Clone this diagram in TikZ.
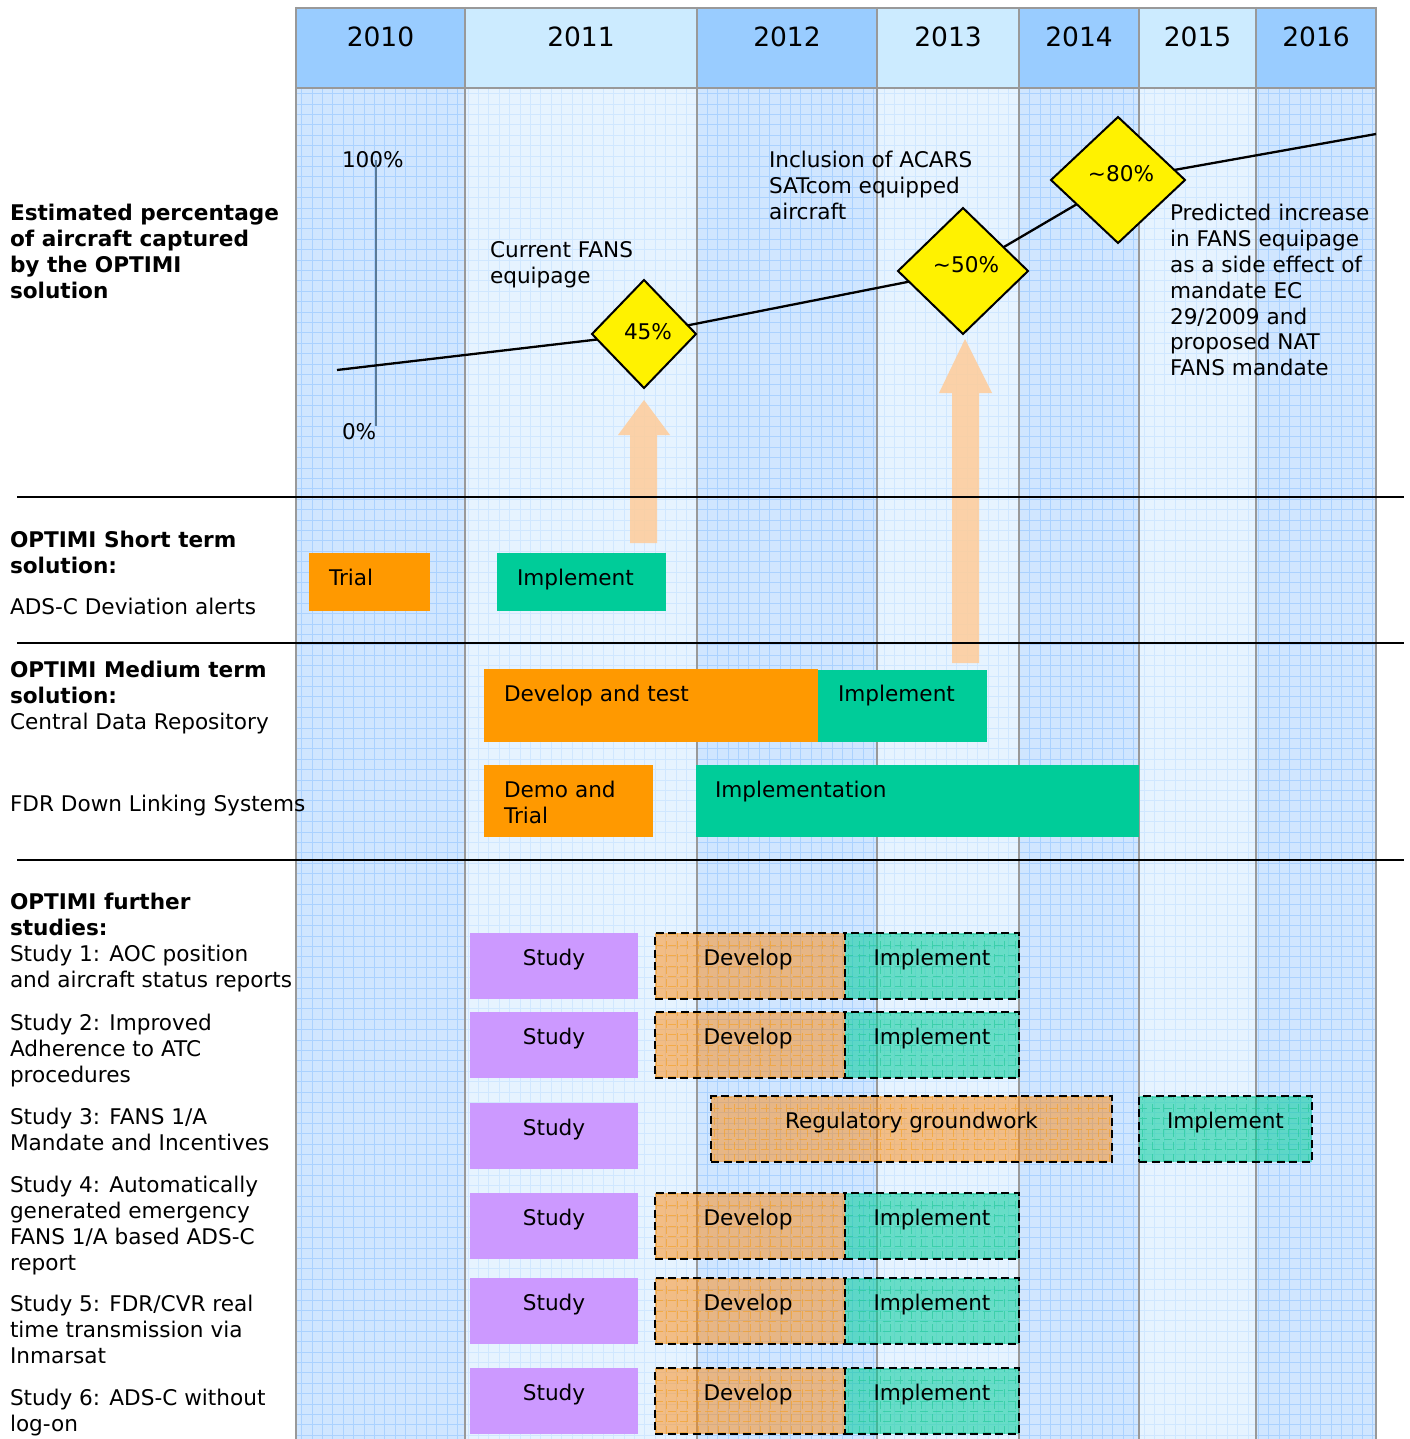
\documentclass[tikz,border=0pt]{standalone}
\usepackage{fontspec}
\setmainfont{DejaVu Sans}
\usetikzlibrary{shapes.geometric,calc}
\definecolor{hdrdark}{HTML}{99CCFF}
\definecolor{hdrlight}{HTML}{CCEBFF}
\definecolor{bodydark}{HTML}{D0E6FF}
\definecolor{bodylight}{HTML}{E6F3FF}
\definecolor{griddark}{HTML}{ABD2FF}
\definecolor{gridlight}{HTML}{D0E7FF}
\definecolor{colborder}{HTML}{999999}
\definecolor{orangebar}{HTML}{FF9900}
\definecolor{greenbar}{HTML}{00CC99}
\definecolor{purplebar}{HTML}{CC99FF}
\definecolor{arrowfill}{HTML}{FFCC99}
\definecolor{axisline}{HTML}{5A7A96}
\definecolor{devgrid}{HTML}{F5A020}
\definecolor{impgrid}{HTML}{20C898}
\begin{document}
\begin{tikzpicture}[x=1pt,y=-1pt,
  every node/.style={font=\fontsize{21.6}{25.8}\selectfont, inner sep=0pt, outer sep=0pt},
  txt/.style={align=left, anchor=north west},
  bartxt/.style={anchor=base west},
  ctrtxt/.style={anchor=base},
  solidbar/.style={rectangle, anchor=north west, minimum width=#1},
  devbox/.style={rectangle, anchor=north west, minimum width=190, minimum height=66,
    fill=orangebar!85!red!95!white, fill opacity=0.5, draw=black, draw opacity=1, line width=2.8, dash pattern=on 8pt off 4.5pt,
    path picture={\draw[devgrid, line width=0.7, opacity=0.6, step=10.4pt] (path picture bounding box.south west) grid (path picture bounding box.north east);}},
  impbox/.style={rectangle, anchor=north west, minimum width=174, minimum height=66,
    fill=greenbar, fill opacity=0.55, draw=black, draw opacity=1, line width=2.8, dash pattern=on 8pt off 4.5pt,
    path picture={\draw[impgrid, line width=0.7, opacity=0.6, step=10.4pt] (path picture bounding box.south west) grid (path picture bounding box.north east);}},
  sepline/.style={line width=2, black},
  dmd/.style={diamond, draw=black, fill=yellow, line width=2, inner sep=0},
  blockarrow/.style={fill=arrowfill, fill opacity=0.85}
]
\useasboundingbox (0,0) rectangle (1409,1439);
\fill[white] (0,0) rectangle (1409,1439);
% columns
\foreach \xa/\xb/\k/\yr in {296/465/dark/2010,465/697/light/2011,697/877/dark/2012,877/1019/light/2013,1019/1139/dark/2014,1139/1256/light/2015,1256/1376/dark/2016}{
  \fill[fill=body\k] (\xa,88) rectangle (\xb,1439);
  \begin{scope}
    \clip (\xa,88) rectangle (\xb,1439);
    \draw[draw=grid\k, line width=0.8, step=10.4pt] (\xa,80) grid (\xb,1445);
  \end{scope}
  \fill[fill=hdr\k] (\xa,8) rectangle (\xb,88);
  \node[anchor=base, font=\fontsize{26.5}{30}\selectfont] (yr\yr) at ({(\xa+\xb)/2},46.5) {\yr};
}
\foreach \xx in {296,465,697,877,1019,1139,1256,1376}{
  \draw[colborder, line width=2.5] (\xx,7) -- (\xx,1439);
}
\draw[colborder, line width=2.5] (295,8) -- (1377,8);
\draw[colborder, line width=2.5] (295,88) -- (1377,88);

% axis
\node[anchor=base west] (t100) at (342,167.5) {100\%};
\node[anchor=base west] (t0) at (342,439.5) {0\%};
\coordinate (axtop) at (376,160);
\coordinate (axbot) at (376,426);
\draw[axisline, line width=2.5] (axtop) -- (axbot);

% trend line and diamonds
\coordinate (lstart) at (337,370);
\coordinate (c45) at (644,334);
\coordinate (c50) at (963,271);
\coordinate (c80) at (1118,180);
\coordinate (lend) at (1376,134);
\draw[line width=2.3] (lstart) -- (c45) -- (c50) -- (c80) -- (lend);
\node[dmd, minimum width=104, minimum height=108] (d45) at (c45) {};
\node[dmd, minimum width=130, minimum height=126] (d50) at (c50) {};
\node[dmd, minimum width=134, minimum height=126] (d80) at (c80) {};
\node (p45) at ($(d45.center)+(4,-2)$) {45\%};
\node (p50) at ($(d50.center)+(3,-6)$) {\textasciitilde50\%};
\node (p80) at ($(d80.center)+(3,-6)$) {\textasciitilde80\%};

% chart annotations
\node[txt] (tcur) at (490,241.5) {Current FANS\\equipage};
\node[txt] (tinc) at (769,151.5) {Inclusion of ACARS\\SATcom equipped\\aircraft};
\node[txt] (tpred) at (1170,204.5) {Predicted increase\\in FANS equipage\\as a side effect of\\mandate EC\\29/2009 and\\proposed NAT\\FANS mandate};

% block arrows
\fill[blockarrow] (630,543) -- (657,543) -- (657,435) -- (670,435) -- (644,400) -- (618,435) -- (630,435) -- cycle;
\fill[blockarrow] (952,663) -- (979,663) -- (979,393) -- (992,393) -- (965,339) -- (939,393) -- (952,393) -- cycle;

% left labels
\node[txt] (lab1) at (10,204.5) {\textbf{Estimated percentage}\\\textbf{of aircraft captured}\\\textbf{by the OPTIMI}\\\textbf{solution}};
\node[txt] (lab2) at (10,531.5) {\textbf{OPTIMI Short term}\\\textbf{solution:}};
\node[txt] (lab3) at (10,598.5) {ADS-C Deviation alerts};
\node[txt] (lab4) at (10,661.5) {\textbf{OPTIMI Medium term}\\\textbf{solution:}\\Central Data Repository};
\node[txt] (lab5) at (10,795.5) {FDR Down Linking Systems};
\node[txt] (lab6) at (10,893.5) {\textbf{OPTIMI further}\\\textbf{studies:}\\Study 1: AOC position\\and aircraft status reports};
\node[txt] (lab7) at (10,1014.5) {Study 2: Improved\\Adherence to ATC\\procedures};
\node[txt] (lab8) at (10,1108.5) {Study 3: FANS 1/A\\Mandate and Incentives};
\node[txt] (lab9) at (10,1176.5) {Study 4: Automatically\\generated emergency\\FANS 1/A based ADS-C\\report};
\node[txt] (lab10) at (10,1295.5) {Study 5: FDR/CVR real\\time transmission via\\Inmarsat};
\node[txt] (lab11) at (10,1389.5) {Study 6: ADS-C without\\log-on};

% short term bars
\node[solidbar=121, minimum height=58, fill=orangebar] (trial) at (309,553) {};
\node[bartxt] (trialt) at ($(trial.north west)+(20,32.5)$) {Trial};
\node[solidbar=169, minimum height=58, fill=greenbar] (impst) at (497,553) {};
\node[bartxt] (impstt) at ($(impst.north west)+(20,32.5)$) {Implement};

% medium term bars
\node[solidbar=334, minimum height=73, fill=orangebar] (devtest) at (484,669) {};
\node[bartxt] (devtestt) at ($(devtest.north west)+(20,32.5)$) {Develop and test};
\node[solidbar=169, minimum height=72, fill=greenbar] (impmt) at (818,670) {};
\node[bartxt] (impmtt) at ($(impmt.north west)+(20,31.5)$) {Implement};
\node[solidbar=169, minimum height=72, fill=orangebar] (demo) at (484,765) {};
\node[txt] (demot) at ($(demo.north west)+(20,16.5)$) {Demo and\\Trial};
\node[solidbar=443, minimum height=72, fill=greenbar] (implem) at (696,765) {};
\node[bartxt] (implemt) at ($(implem.north west)+(19,32.5)$) {Implementation};

% further studies
\foreach \i/\yy/\hh in {1/933/66,2/1012/66,4/1193/66,5/1278/66,6/1368/66}{
  \node[solidbar=168, minimum height=\hh, fill=purplebar] (study\i) at (470,\yy) {};
  \node[ctrtxt] (studyt\i) at ($(study\i.north)+(0,32.5)$) {Study};
  \node[devbox] (dev\i) at (655,\yy) {};
  \node[impbox] (imp\i) at (845,\yy) {};
  \node[ctrtxt] (devt\i) at ($(dev\i.north)+(-2,32.5)$) {Develop};
  \node[ctrtxt] (impt\i) at ($(imp\i.north)+(0,32.5)$) {Implement};
}
\node[solidbar=168, minimum height=66, fill=purplebar] (study3) at (470,1103) {};
\node[ctrtxt] (studyt3) at ($(study3.north)+(0,32.5)$) {Study};
\node[devbox, minimum width=401] (reg3) at (711,1096) {};
\node[ctrtxt] (regt3) at ($(reg3.north)+(0,32.5)$) {Regulatory groundwork};
\node[impbox, minimum width=173] (imp3) at (1139,1096) {};
\node[ctrtxt] (impt3) at ($(imp3.north)+(0,32.5)$) {Implement};

% separators
\coordinate (s1a) at (17,497); \coordinate (s1b) at (1404,497);
\coordinate (s2a) at (17,643); \coordinate (s2b) at (1404,643);
\coordinate (s3a) at (17,860); \coordinate (s3b) at (1404,860);
\draw[sepline] (s1a) -- (s1b);
\draw[sepline] (s2a) -- (s2b);
\draw[sepline] (s3a) -- (s3b);
\end{tikzpicture}
\end{document}
